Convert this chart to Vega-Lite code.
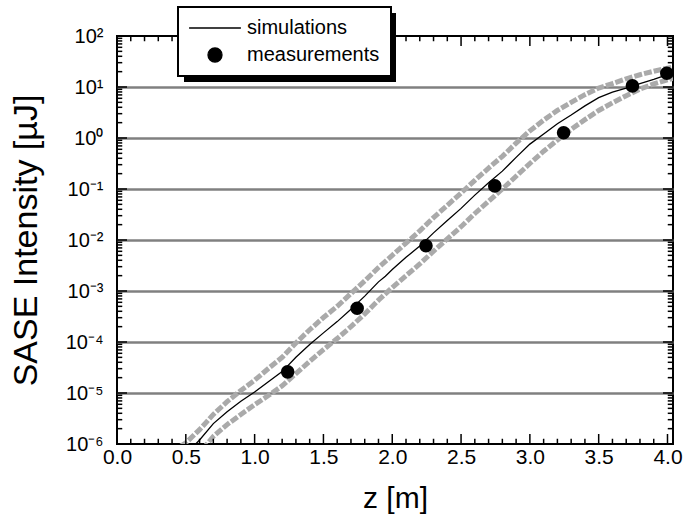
{
  "$schema": "https://vega.github.io/schema/vega-lite/v6.json",
  "width": 556,
  "height": 408,
  "autosize": {"type": "none"},
  "padding": {"left": 117, "top": 36, "right": 13, "bottom": 75},
  "background": "white",
  "config": {
    "view": {"stroke": "black", "strokeWidth": 2},
    "font": "Liberation Sans",
    "axis": {
      "labelFont": "Liberation Sans",
      "titleFont": "Liberation Sans",
      "labelColor": "black",
      "titleColor": "black",
      "titleFontWeight": "normal",
      "ticks": false,
      "domain": false,
      "labelOverlap": false,
      "labelFlush": false,
      "grid": false
    }
  },
  "datasets": {
    "band": [
      {"z": 0.4, "v": 7.08e-7, "edge": "upper"},
      {"z": 0.5, "v": 1.05e-6, "edge": "upper"},
      {"z": 0.6, "v": 1.91e-6, "edge": "upper"},
      {"z": 0.7, "v": 3.80e-6, "edge": "upper"},
      {"z": 0.8, "v": 6.76e-6, "edge": "upper"},
      {"z": 0.9, "v": 1.12e-5, "edge": "upper"},
      {"z": 1.0, "v": 1.78e-5, "edge": "upper"},
      {"z": 1.1, "v": 3.02e-5, "edge": "upper"},
      {"z": 1.2, "v": 5.01e-5, "edge": "upper"},
      {"z": 1.3, "v": 9.55e-5, "edge": "upper"},
      {"z": 1.4, "v": 1.74e-4, "edge": "upper"},
      {"z": 1.5, "v": 3.02e-4, "edge": "upper"},
      {"z": 1.6, "v": 5.01e-4, "edge": "upper"},
      {"z": 1.7, "v": 8.91e-4, "edge": "upper"},
      {"z": 1.8, "v": 1.58e-3, "edge": "upper"},
      {"z": 1.9, "v": 2.88e-3, "edge": "upper"},
      {"z": 2.0, "v": 5.01e-3, "edge": "upper"},
      {"z": 2.1, "v": 8.71e-3, "edge": "upper"},
      {"z": 2.2, "v": 1.51e-2, "edge": "upper"},
      {"z": 2.3, "v": 2.75e-2, "edge": "upper"},
      {"z": 2.4, "v": 4.79e-2, "edge": "upper"},
      {"z": 2.5, "v": 8.32e-2, "edge": "upper"},
      {"z": 2.6, "v": 0.148, "edge": "upper"},
      {"z": 2.7, "v": 0.257, "edge": "upper"},
      {"z": 2.8, "v": 0.437, "edge": "upper"},
      {"z": 2.9, "v": 0.794, "edge": "upper"},
      {"z": 3.0, "v": 1.38, "edge": "upper"},
      {"z": 3.1, "v": 2.24, "edge": "upper"},
      {"z": 3.2, "v": 3.47, "edge": "upper"},
      {"z": 3.3, "v": 5.01, "edge": "upper"},
      {"z": 3.4, "v": 7.08, "edge": "upper"},
      {"z": 3.5, "v": 9.55, "edge": "upper"},
      {"z": 3.6, "v": 11.7, "edge": "upper"},
      {"z": 3.7, "v": 14.5, "edge": "upper"},
      {"z": 3.8, "v": 17.4, "edge": "upper"},
      {"z": 3.9, "v": 20.4, "edge": "upper"},
      {"z": 4.0, "v": 23.4, "edge": "upper"},
      {"z": 4.04, "v": 24.5, "edge": "upper"},
      {"z": 0.4, "v": 2.51e-7, "edge": "lower"},
      {"z": 0.5, "v": 3.55e-7, "edge": "lower"},
      {"z": 0.6, "v": 6.61e-7, "edge": "lower"},
      {"z": 0.7, "v": 1.41e-6, "edge": "lower"},
      {"z": 0.8, "v": 2.40e-6, "edge": "lower"},
      {"z": 0.9, "v": 3.80e-6, "edge": "lower"},
      {"z": 1.0, "v": 5.89e-6, "edge": "lower"},
      {"z": 1.1, "v": 8.91e-6, "edge": "lower"},
      {"z": 1.2, "v": 1.38e-5, "edge": "lower"},
      {"z": 1.3, "v": 2.40e-5, "edge": "lower"},
      {"z": 1.4, "v": 4.17e-5, "edge": "lower"},
      {"z": 1.5, "v": 7.08e-5, "edge": "lower"},
      {"z": 1.6, "v": 1.17e-4, "edge": "lower"},
      {"z": 1.7, "v": 2.00e-4, "edge": "lower"},
      {"z": 1.8, "v": 3.55e-4, "edge": "lower"},
      {"z": 1.9, "v": 6.61e-4, "edge": "lower"},
      {"z": 2.0, "v": 1.17e-3, "edge": "lower"},
      {"z": 2.1, "v": 2.00e-3, "edge": "lower"},
      {"z": 2.2, "v": 3.39e-3, "edge": "lower"},
      {"z": 2.3, "v": 6.03e-3, "edge": "lower"},
      {"z": 2.4, "v": 1.05e-2, "edge": "lower"},
      {"z": 2.5, "v": 1.82e-2, "edge": "lower"},
      {"z": 2.6, "v": 3.31e-2, "edge": "lower"},
      {"z": 2.7, "v": 5.75e-2, "edge": "lower"},
      {"z": 2.8, "v": 0.100, "edge": "lower"},
      {"z": 2.9, "v": 0.178, "edge": "lower"},
      {"z": 3.0, "v": 0.316, "edge": "lower"},
      {"z": 3.1, "v": 0.550, "edge": "lower"},
      {"z": 3.2, "v": 0.912, "edge": "lower"},
      {"z": 3.3, "v": 1.48, "edge": "lower"},
      {"z": 3.4, "v": 2.29, "edge": "lower"},
      {"z": 3.5, "v": 3.47, "edge": "lower"},
      {"z": 3.6, "v": 4.90, "edge": "lower"},
      {"z": 3.7, "v": 6.76, "edge": "lower"},
      {"z": 3.8, "v": 9.12, "edge": "lower"},
      {"z": 3.9, "v": 11.5, "edge": "lower"},
      {"z": 4.0, "v": 13.8, "edge": "lower"},
      {"z": 4.04, "v": 14.8, "edge": "lower"}
    ],
    "sim": [
      {"z": 0.5, "v": 6.31e-7, "series": "simulations"},
      {"z": 0.6, "v": 1.20e-6, "series": "simulations"},
      {"z": 0.7, "v": 2.51e-6, "series": "simulations"},
      {"z": 0.8, "v": 4.27e-6, "series": "simulations"},
      {"z": 0.9, "v": 6.92e-6, "series": "simulations"},
      {"z": 1.0, "v": 1.05e-5, "series": "simulations"},
      {"z": 1.1, "v": 1.66e-5, "series": "simulations"},
      {"z": 1.2, "v": 2.63e-5, "series": "simulations"},
      {"z": 1.3, "v": 5.01e-5, "series": "simulations"},
      {"z": 1.4, "v": 8.91e-5, "series": "simulations"},
      {"z": 1.5, "v": 1.51e-4, "series": "simulations"},
      {"z": 1.6, "v": 2.51e-4, "series": "simulations"},
      {"z": 1.7, "v": 4.37e-4, "series": "simulations"},
      {"z": 1.8, "v": 7.94e-4, "series": "simulations"},
      {"z": 1.9, "v": 1.51e-3, "series": "simulations"},
      {"z": 1.95, "v": 1.95e-3, "series": "simulations"},
      {"z": 2.0, "v": 2.63e-3, "series": "simulations"},
      {"z": 2.1, "v": 4.57e-3, "series": "simulations"},
      {"z": 2.2, "v": 7.59e-3, "series": "simulations"},
      {"z": 2.3, "v": 1.38e-2, "series": "simulations"},
      {"z": 2.4, "v": 2.40e-2, "series": "simulations"},
      {"z": 2.5, "v": 4.17e-2, "series": "simulations"},
      {"z": 2.6, "v": 7.59e-2, "series": "simulations"},
      {"z": 2.7, "v": 0.132, "series": "simulations"},
      {"z": 2.8, "v": 0.224, "series": "simulations"},
      {"z": 2.9, "v": 0.417, "series": "simulations"},
      {"z": 3.0, "v": 0.759, "series": "simulations"},
      {"z": 3.1, "v": 1.20, "series": "simulations"},
      {"z": 3.2, "v": 1.91, "series": "simulations"},
      {"z": 3.3, "v": 2.82, "series": "simulations"},
      {"z": 3.4, "v": 4.27, "series": "simulations"},
      {"z": 3.5, "v": 6.17, "series": "simulations"},
      {"z": 3.6, "v": 7.94, "series": "simulations"},
      {"z": 3.7, "v": 9.55, "series": "simulations"},
      {"z": 3.8, "v": 11.7, "series": "simulations"},
      {"z": 3.9, "v": 14.1, "series": "simulations"},
      {"z": 4.0, "v": 17.4, "series": "simulations"}
    ],
    "meas": [
      {"z": 1.24, "v": 2.6e-5, "series": "measurements"},
      {"z": 1.745, "v": 4.6e-4, "series": "measurements"},
      {"z": 2.245, "v": 7.7e-3, "series": "measurements"},
      {"z": 2.745, "v": 0.115, "series": "measurements"},
      {"z": 3.245, "v": 1.27, "series": "measurements"},
      {"z": 3.745, "v": 10.5, "series": "measurements"},
      {"z": 3.995, "v": 18.6, "series": "measurements"}
    ],
    "xticks": [
      {"z": 0.0, "kind": "major"}, {"z": 0.1, "kind": "minor"}, {"z": 0.2, "kind": "minor"}, {"z": 0.3, "kind": "minor"}, {"z": 0.4, "kind": "minor"},
      {"z": 0.5, "kind": "major"}, {"z": 0.6, "kind": "minor"}, {"z": 0.7, "kind": "minor"}, {"z": 0.8, "kind": "minor"}, {"z": 0.9, "kind": "minor"},
      {"z": 1.0, "kind": "major"}, {"z": 1.1, "kind": "minor"}, {"z": 1.2, "kind": "minor"}, {"z": 1.3, "kind": "minor"}, {"z": 1.4, "kind": "minor"},
      {"z": 1.5, "kind": "major"}, {"z": 1.6, "kind": "minor"}, {"z": 1.7, "kind": "minor"}, {"z": 1.8, "kind": "minor"}, {"z": 1.9, "kind": "minor"},
      {"z": 2.0, "kind": "major"}, {"z": 2.1, "kind": "minor"}, {"z": 2.2, "kind": "minor"}, {"z": 2.3, "kind": "minor"}, {"z": 2.4, "kind": "minor"},
      {"z": 2.5, "kind": "major"}, {"z": 2.6, "kind": "minor"}, {"z": 2.7, "kind": "minor"}, {"z": 2.8, "kind": "minor"}, {"z": 2.9, "kind": "minor"},
      {"z": 3.0, "kind": "major"}, {"z": 3.1, "kind": "minor"}, {"z": 3.2, "kind": "minor"}, {"z": 3.3, "kind": "minor"}, {"z": 3.4, "kind": "minor"},
      {"z": 3.5, "kind": "major"}, {"z": 3.6, "kind": "minor"}, {"z": 3.7, "kind": "minor"}, {"z": 3.8, "kind": "minor"}, {"z": 3.9, "kind": "minor"},
      {"z": 4.0, "kind": "major"}
    ],
    "yticks": [
      {"v": 1e-6, "kind": "major"}, {"v": 2e-6, "kind": "minor"}, {"v": 3e-6, "kind": "minor"}, {"v": 4e-6, "kind": "minor"}, {"v": 5e-6, "kind": "minor"}, {"v": 6e-6, "kind": "minor"}, {"v": 7e-6, "kind": "minor"}, {"v": 8e-6, "kind": "minor"}, {"v": 9e-6, "kind": "minor"},
      {"v": 1e-5, "kind": "major"}, {"v": 2e-5, "kind": "minor"}, {"v": 3e-5, "kind": "minor"}, {"v": 4e-5, "kind": "minor"}, {"v": 5e-5, "kind": "minor"}, {"v": 6e-5, "kind": "minor"}, {"v": 7e-5, "kind": "minor"}, {"v": 8e-5, "kind": "minor"}, {"v": 9e-5, "kind": "minor"},
      {"v": 1e-4, "kind": "major"}, {"v": 2e-4, "kind": "minor"}, {"v": 3e-4, "kind": "minor"}, {"v": 4e-4, "kind": "minor"}, {"v": 5e-4, "kind": "minor"}, {"v": 6e-4, "kind": "minor"}, {"v": 7e-4, "kind": "minor"}, {"v": 8e-4, "kind": "minor"}, {"v": 9e-4, "kind": "minor"},
      {"v": 1e-3, "kind": "major"}, {"v": 2e-3, "kind": "minor"}, {"v": 3e-3, "kind": "minor"}, {"v": 4e-3, "kind": "minor"}, {"v": 5e-3, "kind": "minor"}, {"v": 6e-3, "kind": "minor"}, {"v": 7e-3, "kind": "minor"}, {"v": 8e-3, "kind": "minor"}, {"v": 9e-3, "kind": "minor"},
      {"v": 0.01, "kind": "major"}, {"v": 0.02, "kind": "minor"}, {"v": 0.03, "kind": "minor"}, {"v": 0.04, "kind": "minor"}, {"v": 0.05, "kind": "minor"}, {"v": 0.06, "kind": "minor"}, {"v": 0.07, "kind": "minor"}, {"v": 0.08, "kind": "minor"}, {"v": 0.09, "kind": "minor"},
      {"v": 0.1, "kind": "major"}, {"v": 0.2, "kind": "minor"}, {"v": 0.3, "kind": "minor"}, {"v": 0.4, "kind": "minor"}, {"v": 0.5, "kind": "minor"}, {"v": 0.6, "kind": "minor"}, {"v": 0.7, "kind": "minor"}, {"v": 0.8, "kind": "minor"}, {"v": 0.9, "kind": "minor"},
      {"v": 1, "kind": "major"}, {"v": 2, "kind": "minor"}, {"v": 3, "kind": "minor"}, {"v": 4, "kind": "minor"}, {"v": 5, "kind": "minor"}, {"v": 6, "kind": "minor"}, {"v": 7, "kind": "minor"}, {"v": 8, "kind": "minor"}, {"v": 9, "kind": "minor"},
      {"v": 10, "kind": "major"}, {"v": 20, "kind": "minor"}, {"v": 30, "kind": "minor"}, {"v": 40, "kind": "minor"}, {"v": 50, "kind": "minor"}, {"v": 60, "kind": "minor"}, {"v": 70, "kind": "minor"}, {"v": 80, "kind": "minor"}, {"v": 90, "kind": "minor"},
      {"v": 100, "kind": "major"}
    ]
  },
  "layer": [
    {
      "data": {"name": "band"},
      "mark": {"type": "line", "clip": true, "strokeWidth": 5, "strokeDash": [8, 2], "color": "#aaaaaa"},
      "encoding": {
        "x": {
          "field": "z", "type": "quantitative",
          "scale": {"domain": [0, 4.04], "nice": false, "zero": false},
          "axis": {
            "orient": "bottom",
            "values": [0, 0.5, 1.0, 1.5, 2.0, 2.5, 3.0, 3.5, 4.0],
            "format": ".1f",
            "labelFontSize": 21,
            "labelPadding": 2.5,
            "title": "z [m]",
            "titleFontSize": 30,
            "titlePadding": 16
          }
        },
        "y": {
          "field": "v", "type": "quantitative",
          "scale": {"type": "log", "domain": [1e-6, 100], "nice": false},
          "axis": {
            "orient": "left",
            "values": [1e-6, 1e-5, 1e-4, 1e-3, 0.01, 0.1, 1, 10, 100],
            "labelExpr": "'10' + (round(log(datum.value) / LN10) < 0 ? '⁻' : '') + substring('⁰¹²³⁴⁵⁶⁷⁸⁹', abs(round(log(datum.value) / LN10)), abs(round(log(datum.value) / LN10)) + 1)",
            "labelFontSize": 20,
            "labelPadding": 14,
            "grid": true,
            "gridColor": "#808080",
            "gridWidth": 2.5,
            "gridOpacity": {"condition": {"test": "datum.value > 1.5e-6 && datum.value < 50", "value": 1}, "value": 0},
            "title": "SASE Intensity [µJ]",
            "titleFontSize": 34,
            "titlePadding": 22
          }
        },
        "detail": {"field": "edge", "type": "nominal"}
      }
    },
    {
      "data": {"name": "sim"},
      "mark": {"type": "line", "clip": true, "strokeWidth": 1.3},
      "encoding": {
        "x": {"field": "z", "type": "quantitative"},
        "y": {"field": "v", "type": "quantitative"},
        "color": {
          "field": "series", "type": "nominal",
          "scale": {"domain": ["simulations", "measurements"], "range": ["black", "black"]},
          "legend": {
            "orient": "none",
            "legendX": 61,
            "legendY": -29,
            "title": null,
            "zindex": 2,
            "padding": 11,
            "fillColor": "white",
            "strokeColor": "black",
            "symbolType": "circle",
            "symbolSize": 196,
            "symbolStrokeWidth": 1.3,
            "symbolOffset": 16,
            "labelFont": "Liberation Sans",
            "labelFontSize": 20,
            "labelColor": "black",
            "labelOffset": 22,
            "rowPadding": 7,
            "encode": {
              "legend": {"update": {"strokeWidth": {"value": 2}}},
              "symbols": {
                "update": {
                  "shape": {"signal": "datum.value === 'measurements' ? 'circle' : 'M-3.7,0H3.7'"},
                  "fill": {"value": "black"},
                  "stroke": {"value": "black"},
                  "opacity": {"value": 1}
                }
              }
            }
          }
        }
      }
    },
    {
      "data": {"name": "meas"},
      "mark": {"type": "point", "filled": true, "size": 185, "opacity": 1, "shape": "circle"},
      "encoding": {
        "x": {"field": "z", "type": "quantitative"},
        "y": {"field": "v", "type": "quantitative"},
        "color": {"field": "series", "type": "nominal"},
        "fill": {
          "field": "z", "type": "quantitative",
          "scale": {"range": ["black", "black"]},
          "legend": {
            "type": "gradient",
            "direction": "horizontal",
            "orient": "none",
            "legendX": 67,
            "legendY": -23,
            "title": null,
            "labelExpr": "''",
            "padding": 0,
            "gradientLength": 212,
            "gradientThickness": 69,
            "gradientStrokeWidth": 0,
            "zindex": 1
          }
        }
      }
    },
    {
      "data": {"name": "xticks"},
      "mark": {"type": "point", "shape": "M0,0V-1", "filled": false, "strokeWidth": 1.5, "stroke": "black", "opacity": 1},
      "encoding": {
        "x": {"field": "z", "type": "quantitative"},
        "y": {"datum": 1e-6, "type": "quantitative"},
        "size": {"field": "kind", "type": "nominal", "scale": {"domain": ["major", "minor"], "range": [400, 110]}, "legend": null}
      }
    },
    {
      "data": {"name": "xticks"},
      "mark": {"type": "point", "shape": "M0,0V1", "filled": false, "strokeWidth": 1.5, "stroke": "black", "opacity": 1},
      "encoding": {
        "x": {"field": "z", "type": "quantitative"},
        "y": {"datum": 100, "type": "quantitative"},
        "size": {"field": "kind", "type": "nominal", "legend": null}
      }
    },
    {
      "data": {"name": "yticks"},
      "mark": {"type": "point", "shape": "M0,0H1", "filled": false, "strokeWidth": 1.5, "stroke": "black", "opacity": 1},
      "encoding": {
        "y": {"field": "v", "type": "quantitative"},
        "x": {"datum": 0, "type": "quantitative"},
        "size": {"field": "kind", "type": "nominal", "legend": null}
      }
    },
    {
      "data": {"name": "yticks"},
      "mark": {"type": "point", "shape": "M0,0H-1", "filled": false, "strokeWidth": 1.5, "stroke": "black", "opacity": 1},
      "encoding": {
        "y": {"field": "v", "type": "quantitative"},
        "x": {"datum": 4.04, "type": "quantitative"},
        "size": {"field": "kind", "type": "nominal", "legend": null}
      }
    }
  ]
}
